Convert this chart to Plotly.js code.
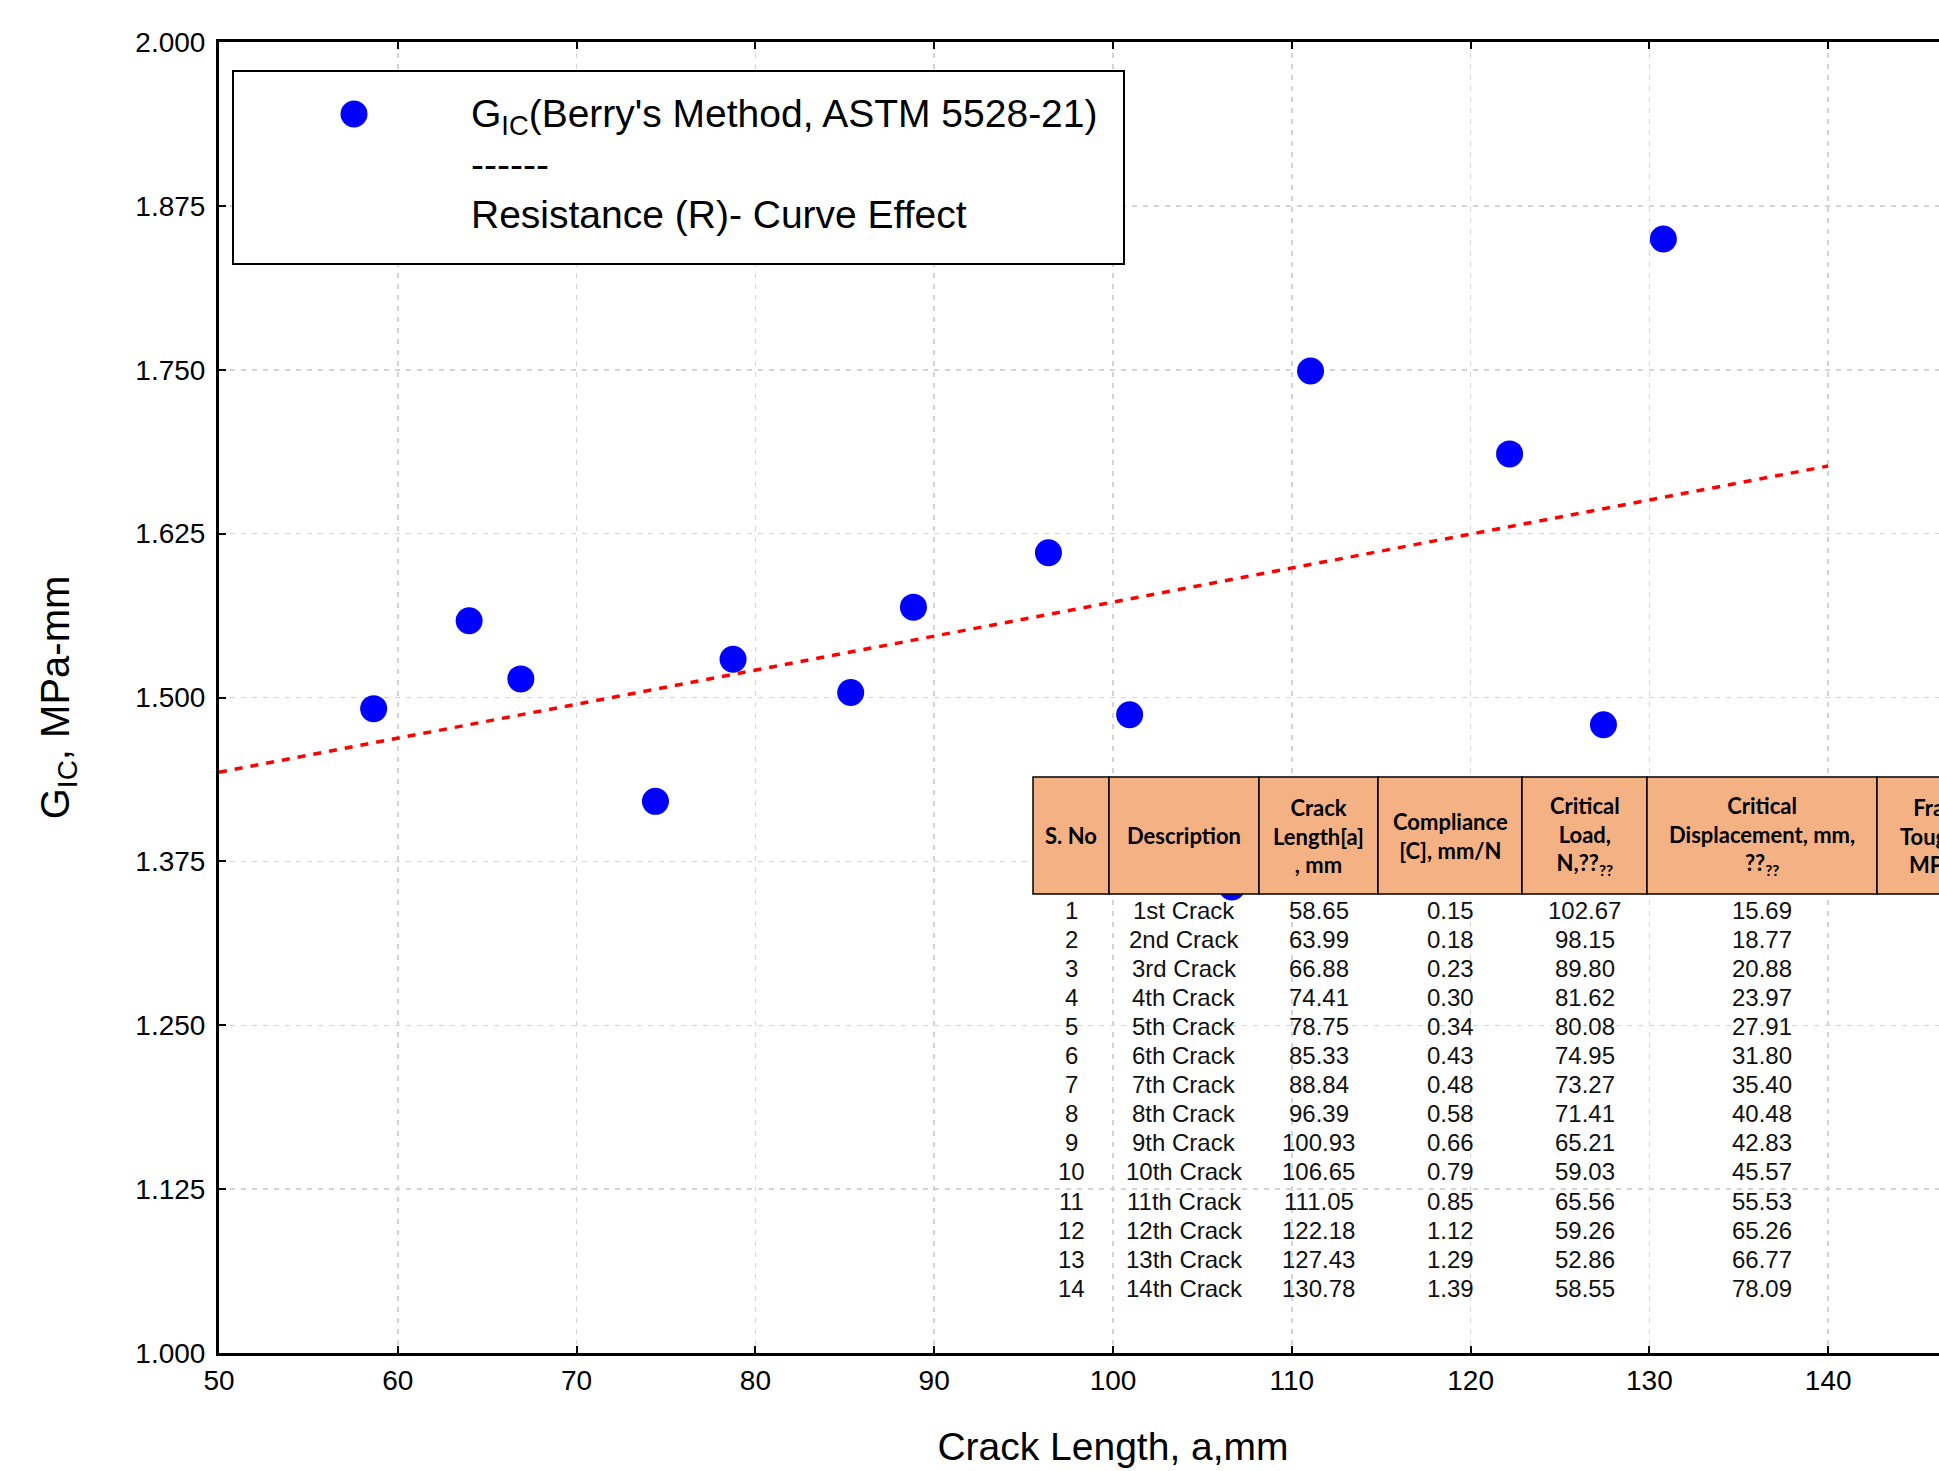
<!DOCTYPE html>
<html>
<head>
<meta charset="utf-8">
<script src="https://cdn.plot.ly/plotly-3.0.1.min.js"></script>
<style>
html, body { margin:0; padding:0; overflow:hidden; background:#ffffff; }
#chart { width:2007px; height:1471px; }
</style>
</head>
<body>
<div id="chart"></div>
<script>
// ---------------- DATA ----------------
const crackLength = [58.65, 63.99, 66.88, 74.41, 78.75, 85.33, 88.84, 96.39, 100.93, 106.65, 111.05, 122.18, 127.43, 130.78];
const gIC = [1.4915, 1.5585, 1.5142, 1.4208, 1.5292, 1.5038, 1.5689, 1.6104, 1.4868, 1.3554, 1.7490, 1.6858, 1.4792, 1.8497];
const trendX = [50, 140];
const trendY = [1.443, 1.6766];

const sNo = ["1","2","3","4","5","6","7","8","9","10","11","12","13","14"];
const descriptions = ["1st Crack","2nd Crack","3rd Crack","4th Crack","5th Crack","6th Crack","7th Crack","8th Crack","9th Crack","10th Crack","11th Crack","12th Crack","13th Crack","14th Crack"];
const compliance = [0.15, 0.18, 0.23, 0.30, 0.34, 0.43, 0.48, 0.58, 0.66, 0.79, 0.85, 1.12, 1.29, 1.39];
const criticalLoad = [102.67, 98.15, 89.80, 81.62, 80.08, 74.95, 73.27, 71.41, 65.21, 59.03, 65.56, 59.26, 52.86, 58.55];
const criticalDisp = [15.69, 18.77, 20.88, 23.97, 27.91, 31.80, 35.40, 40.48, 42.83, 45.57, 55.53, 65.26, 66.77, 78.09];

const headerTexts = [
  "S. No",
  "Description",
  "Crack<br>Length[a]<br>, mm",
  "Compliance<br>[C], mm/N",
  "Critical<br>Load,<br>N,??<sub>??</sub>",
  "Critical<br>Displacement, mm,<br>??<sub>??</sub>",
  "Fracture<br>Toughness,<br>MPa-mm"
];

const xTicks = [50, 60, 70, 80, 90, 100, 110, 120, 130, 140];
const yTicks = [1.000, 1.125, 1.250, 1.375, 1.500, 1.625, 1.750, 1.875, 2.000];

const legendName = "G<sub>IC</sub>(Berry's Method, ASTM 5528-21)<br>------<br>Resistance (R)- Curve Effect";
const xTitle = "Crack Length, a,mm";
const yTitle = "G<sub>IC</sub>, MPa-mm";

// ---------------- LAYOUT GEOMETRY ----------------
const W = 2007, H = 1471;
const M = { l: 219, r: 0, t: 42, b: 118 };
const plotW = W - M.l - M.r, plotH = H - M.t - M.b;
const px2x = p => (p - M.l) / plotW;
const px2y = p => (H - M.b - p) / plotH;

const colEdges = [1033, 1109, 1259, 1378, 1522, 1647, 1877, 2030];
const headerTop = 777, headerBottom = 894;
const rowFirst = 910, rowStep = 29.1;

const legendBox = { l: 233, t: 71, r: 1124, b: 264 };
const legendSymbol = { cx: 354, cy: 114, r: 13.5 };

const FONT = "Liberation Sans, Arial, sans-serif";
const HFONT = "Lato, Carlito, Calibri, sans-serif";

// ---------------- SHAPES / ANNOTATIONS ----------------
const shapes = [];
const annotations = [];

// legend frame (opaque white box) and enlarged legend symbol
shapes.push({
  type: "rect", xref: "paper", yref: "paper", layer: "above",
  x0: px2x(legendBox.l), x1: px2x(legendBox.r), y0: px2y(legendBox.b), y1: px2y(legendBox.t),
  fillcolor: "#ffffff", line: { color: "#000000", width: 2 }
});
shapes.push({
  type: "circle", xref: "paper", yref: "paper", layer: "above",
  x0: px2x(legendSymbol.cx - legendSymbol.r), x1: px2x(legendSymbol.cx + legendSymbol.r),
  y0: px2y(legendSymbol.cy + legendSymbol.r), y1: px2y(legendSymbol.cy - legendSymbol.r),
  fillcolor: "#0000ff", line: { width: 0 }
});

// table header
for (let c = 0; c < headerTexts.length; c++) {
  shapes.push({
    type: "rect", xref: "paper", yref: "paper", layer: "above",
    x0: px2x(colEdges[c]), x1: px2x(colEdges[c + 1]),
    y0: px2y(headerBottom), y1: px2y(headerTop),
    fillcolor: "#F4B183", line: { color: "#000000", width: 1.5 }
  });
  annotations.push({
    xref: "paper", yref: "paper", showarrow: false,
    x: px2x((colEdges[c] + colEdges[c + 1]) / 2), y: px2y((headerTop + headerBottom) / 2),
    xanchor: "center", yanchor: "middle", align: "center",
    text: "<b>" + headerTexts[c].replace(/<br>/g, "</b><br><b>") + "</b>",
    font: { family: HFONT, size: 22, color: "#000000" }
  });
}
// table body
const bodyCols = [
  sNo,
  descriptions,
  crackLength.map(v => v.toFixed(2)),
  compliance.map(v => v.toFixed(2)),
  criticalLoad.map(v => v.toFixed(2)),
  criticalDisp.map(v => v.toFixed(2))
];
for (let c = 0; c < bodyCols.length; c++) {
  for (let r = 0; r < bodyCols[c].length; r++) {
    annotations.push({
      xref: "paper", yref: "paper", showarrow: false,
      x: px2x((colEdges[c] + colEdges[c + 1]) / 2), y: px2y(rowFirst + r * rowStep),
      xanchor: "center", yanchor: "middle",
      text: bodyCols[c][r],
      font: { family: FONT, size: 24, color: "#111111" }
    });
  }
}

// ---------------- TRACES ----------------
const traces = [
  {
    x: trendX, y: trendY, type: "scatter", mode: "lines",
    line: { color: "#ff0000", width: 3.5, dash: "8px,8px" },
    showlegend: false, hoverinfo: "skip"
  },
  {
    x: crackLength, y: gIC, type: "scatter", mode: "markers",
    marker: { color: "#0000ff", size: 27 },
    name: legendName, showlegend: true
  }
];

const axisCommon = {
  showline: true, linecolor: "#000000", linewidth: 3, mirror: "ticks",
  ticks: "inside", ticklen: 7, tickwidth: 2, tickcolor: "#000000",
  showgrid: true, gridcolor: "#d4d4d4", gridwidth: 1.5, griddash: "5px,6px",
  zeroline: false,
  tickfont: { family: FONT, size: 28, color: "#000000" }
};

const layout = {
  width: W, height: H,
  margin: M,
  paper_bgcolor: "#ffffff", plot_bgcolor: "#ffffff",
  font: { family: FONT, color: "#000000" },
  showlegend: true,
  xaxis: Object.assign({}, axisCommon, {
    range: [50, 150], tickmode: "array", tickvals: xTicks,
    ticklabelstandoff: 0,
    title: { text: xTitle, font: { family: FONT, size: 39, color: "#000000" }, standoff: 39 }
  }),
  yaxis: Object.assign({}, axisCommon, {
    range: [1, 2], tickmode: "array", tickvals: yTicks, tickformat: ".3f",
    ticklabelstandoff: 5,
    title: { text: yTitle, font: { family: FONT, size: 40, color: "#000000" }, standoff: 54 }
  }),
  legend: {
    x: px2x(legendBox.l), y: px2y(80), xanchor: "left", yanchor: "top",
    bgcolor: "rgba(0,0,0,0)", borderwidth: 0,
    font: { family: FONT, size: 39, color: "#000000" },
    itemwidth: 228, valign: "top"
  },
  shapes: shapes,
  annotations: annotations
};

Plotly.newPlot("chart", traces, layout, { displayModeBar: false, responsive: false, staticPlot: true });
</script>
</body>
</html>
